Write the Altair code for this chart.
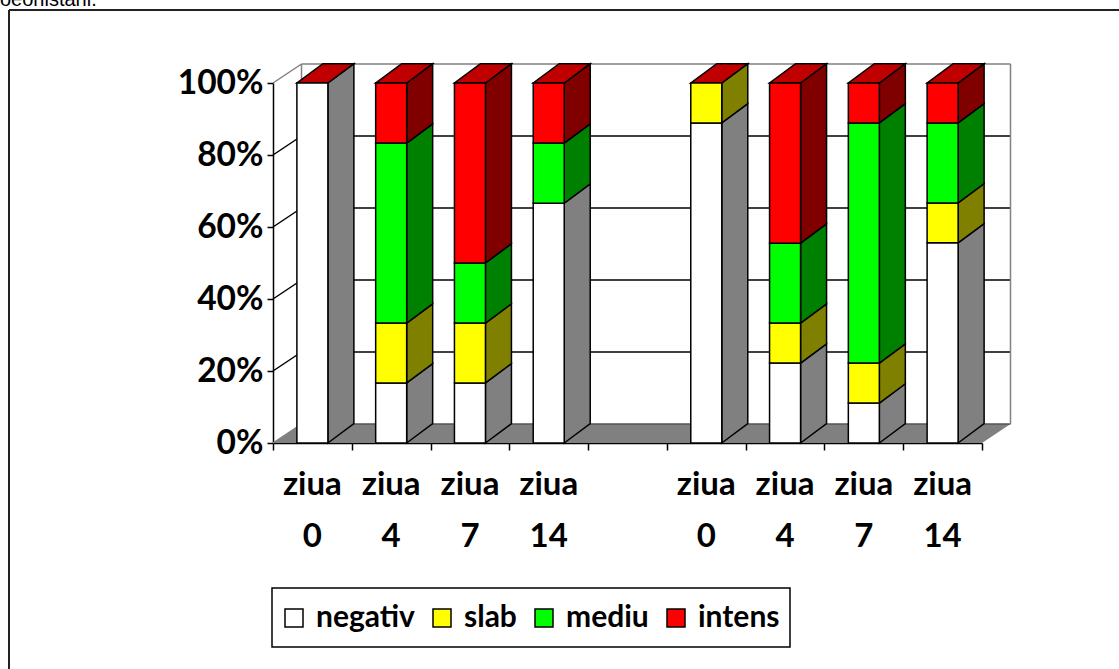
import altair as alt
import pandas as pd

# ---- data -------------------------------------------------------------
days = ["0", "4", "7", "14", "0", "4", "7", "14"]
slots = [0, 1, 2, 3, 5, 6, 7, 8]          # slot 4 stays empty between the two groups
n_slots = 9

series = ["negativ", "slab", "mediu", "intens"]
front_colors = ["#FFFFFF", "#FFFF00", "#00FF00", "#FF0000"]
side_colors = ["#808080", "#808000", "#008000", "#800000"]
top_color = "#C00000"

# percentage of each grade per day
negativ = [100.0, 16.7, 16.7, 66.6, 88.9, 22.2, 11.1, 55.6]
slab = [0.0, 16.6, 16.6, 0.0, 11.1, 11.1, 11.1, 11.1]
mediu = [0.0, 50.0, 16.7, 16.7, 0.0, 22.2, 66.7, 22.2]
intens = [0.0, 16.7, 50.0, 16.7, 0.0, 44.5, 11.1, 11.1]
values = [negativ, slab, mediu, intens]

# ---- geometry of the pseudo-3D drawing ------------------------------
W, H = 709, 360
band_px = W / n_slots
half_w = 15.5 / band_px        # half of a bar's front face, in slot units
bar_dx = 26 / band_px          # depth of a bar, horizontal part
bar_dy = 19.3 * 100 / H        # depth of a bar, vertical part (in %)
wall_dx = 28.5 / band_px
wall_dy = 19 * 100 / H

FONT = "Lato"

front_rows, side_rows, top_rows = [], [], []
for b, (slot, day) in enumerate(zip(slots, days)):
    c = slot + 0.5
    xl, xr = c - half_w, c + half_w
    base = 0.0
    for s, name in enumerate(series):
        v = values[s][b]
        y0, y1 = base, base + v
        base = y1
        if v <= 0:
            continue
        front_rows.append(dict(xl=xl, xr=xr, y0=y0, y1=y1, series=name))
        sid = f"{b}-{s}"
        side_rows.append(dict(id=sid, x=xr, lo=y0, hi=y1, fill=side_colors[s]))
        side_rows.append(dict(id=sid, x=xr + bar_dx, lo=y0 + bar_dy, hi=y1 + bar_dy,
                              fill=side_colors[s]))
    t = base
    for x, lo, hi in [(xl, t, t), (xl + bar_dx, t, t + bar_dy),
                      (xr, t, t + bar_dy), (xr + bar_dx, t + bar_dy, t + bar_dy)]:
        top_rows.append(dict(id=str(b), x=x, lo=lo, hi=hi))

front = pd.DataFrame(front_rows)
side = pd.DataFrame(side_rows)
top = pd.DataFrame(top_rows)

floor = pd.DataFrame(dict(
    x=[0, wall_dx, n_slots, n_slots + wall_dx],
    lo=[0, 0, 0, wall_dy],
    hi=[0, wall_dy, wall_dy, wall_dy],
))

levels = [0, 20, 40, 60, 80, 100]
wall_lines = []
for v in levels:
    col = "black" if 0 < v < 100 else "#808080"
    # diagonal on the side wall
    wall_lines.append(dict(x=0, x2=wall_dx, y=v, y2=v + wall_dy, col=col))
    # horizontal on the back wall
    wall_lines.append(dict(x=wall_dx, x2=n_slots + wall_dx, y=v + wall_dy,
                           y2=v + wall_dy, col=col if v > 0 else "#555555"))
for xv in [wall_dx, n_slots + wall_dx]:
    wall_lines.append(dict(x=xv, x2=xv, y=wall_dy, y2=100 + wall_dy, col="#808080"))
walls = pd.DataFrame(wall_lines)

labels = pd.DataFrame(dict(x=[s + 0.5 for s in slots],
                           label=["ziua\n" + d for d in days]))

# ---- shared scales and axes ---------------------------------------------
xs = alt.Scale(domain=[0, n_slots], nice=False, zero=False)
ys = alt.Scale(domain=[0, 100], nice=False, zero=False)
x_axis = alt.Axis(values=list(range(n_slots + 1)), labels=False, grid=False,
                  tickSize=7, tickColor="black", tickWidth=1.5,
                  domainColor="black", domainWidth=1.5, title=None)
y_axis = alt.Axis(values=levels, labelExpr="datum.value + '%'", grid=False,
                  labelFont=FONT, labelFontSize=33.5, labelFontWeight="bold",
                  labelColor="black", labelPadding=4,
                  tickSize=6, tickColor="black", tickWidth=1.5,
                  domainColor="black", domainWidth=1.5, title=None)


def X(field):
    return alt.X(field, scale=xs, axis=x_axis)


def Y(field):
    return alt.Y(field, scale=ys, axis=y_axis, stack=None)


# ---- layers -------------------------------------------------------------
floor_layer = alt.Chart(floor).mark_area(orient="vertical", fill="#808080").encode(
    x=X("x:Q"), y=Y("lo:Q"), y2="hi:Q",
)

wall_layer = alt.Chart(walls).mark_rule(strokeWidth=1.5).encode(
    x=X("x:Q"), x2="x2:Q", y=Y("y:Q"), y2="y2:Q",
    color=alt.Color("col:N", scale=None),
)

side_layer = alt.Chart(side).mark_area(orient="vertical", stroke="black",
                                       strokeWidth=1.5).encode(
    x=X("x:Q"), y=Y("lo:Q"), y2="hi:Q",
    fill=alt.Fill("fill:N", scale=None),
    detail="id:N",
)

top_layer = alt.Chart(top).mark_area(orient="vertical", stroke="black",
                                     strokeWidth=1.5, fill=top_color).encode(
    x=X("x:Q"), y=Y("lo:Q"), y2="hi:Q",
    detail="id:N",
)

front_layer = alt.Chart(front).mark_bar(stroke="black", strokeWidth=1.5).encode(
    x=X("xl:Q"), x2="xr:Q",
    y=Y("y0:Q"), y2="y1:Q",
    color=alt.Color("series:N",
                    scale=alt.Scale(domain=series, range=front_colors),
                    legend=alt.Legend(orient="none", legendX=6, legendY=520,
                                      direction="horizontal", title=None,
                                      labelFont=FONT, labelFontSize=30,
                                      labelFontWeight="bold", labelColor="black",
                                      symbolType="square", symbolSize=324,
                                      symbolStrokeColor="black", symbolStrokeWidth=1.5,
                                      padding=0, columnPadding=12, labelOffset=7)),
)

label_layer = alt.Chart(labels).mark_text(
    lineBreak="\n", font=FONT, fontSize=33, fontWeight="bold", color="black",
    align="center", baseline="alphabetic", lineHeight=52,
).encode(
    x=X("x:Q"),
    y=alt.value(412),
    text="label:N",
)

frame = pd.DataFrame(dict(k=[0]))
border_top = alt.Chart(frame).mark_rule(color="#222222", strokeWidth=2).encode(
    x=alt.value(-264), x2=alt.value(860), y=alt.value(-73))
border_left = alt.Chart(frame).mark_rule(color="#222222", strokeWidth=2).encode(
    x=alt.value(-264), y=alt.value(-73), y2=alt.value(600))
legend_box = alt.Chart(frame).mark_rect(fill="white", stroke="black",
                                         strokeWidth=1.5).encode(
    x=alt.value(-1), x2=alt.value(517), y=alt.value(505), y2=alt.value(564))
caption = alt.Chart(frame).mark_text(
    text="oeonistani.", font="Liberation Sans", fontSize=20, color="black",
    align="left", baseline="alphabetic",
).encode(x=alt.value(-273), y=alt.value(-77.5))

chart = alt.layer(
    border_top, border_left, caption, legend_box,
    floor_layer, wall_layer, side_layer, top_layer, front_layer, label_layer,
).properties(
    width=W, height=H,
    autosize=alt.AutoSizeParams(type="none"),
    padding={"left": 273, "top": 83, "right": 137, "bottom": 226},
    background="white",
).configure_view(stroke=None)

chart.save("out.html", embed_options={"renderer": "svg", "actions": False})
